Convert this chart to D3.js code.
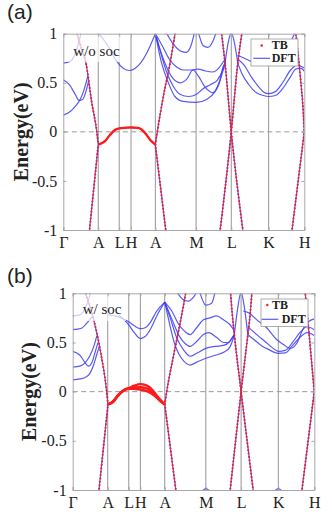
<!DOCTYPE html>
<html>
<head>
<meta charset="utf-8">
<script src="https://cdn.jsdelivr.net/npm/d3@7"></script>
<style>
  body { margin: 0; background: #fff; }
  text { fill: #222; }
</style>
</head>
<body>
<div id="chart"></div>
<script>
//k-path labels and positions (fraction of path length)
const kLabels = ["Γ", "A", "L", "H", "A", "M", "L", "K", "H"];
const kTicksA = [0, 0.145, 0.232, 0.281, 0.382, 0.551, 0.697, 0.852, 1];
const kTicksB = [0, 0.145, 0.232, 0.280, 0.381, 0.551, 0.697, 0.851, 1];
const energyTicks = [-1, -0.5, 0, 0.5, 1];

//////////////// panel (a): w/o soc ////////////////
//TB bands (dotted red, DFT blue underneath)
const tbLinesA = [
  [[0.055, 1.02], [0.075, 0.85], [0.094, 0.70], [0.118, 0.30], [0.139, 0.0], [0.145, -0.13]],
  [[0.108, -1.02], [0.145, -0.13]],
  [[0.382, -0.13], [0.390, 0.0], [0.415, 0.36], [0.443, 0.70], [0.465, 1.02]],
  [[0.382, -0.13], [0.426, -1.02]],
  [[0.650, -1.02], [0.697, 0.0], [0.724, 0.70], [0.742, 1.02]],
  [[0.656, 1.02], [0.671, 0.70], [0.697, 0.0], [0.746, -1.02]],
  [[0.964, 1.02], [0.982, 0.60], [0.996, 0.19], [1.0, 0.0]],
  [[0.948, -1.02], [1.0, 0.0]]
];
//flat band near the Fermi level (dense TB points)
const tbFlatA = [
  [[0.145, -0.13], [0.173, -0.095], [0.194, -0.03], [0.215, 0.02], [0.232, 0.035], [0.26, 0.042],
   [0.281, 0.045], [0.311, 0.04], [0.339, -0.01], [0.36, -0.08], [0.382, -0.13]]
];
//DFT-only bands
const dftA = [
  [[0, 0.70], [0.03, 0.72], [0.05, 0.80], [0.065, 0.92], [0.075, 1.02]],
  [[0, 0.53], [0.025, 0.48], [0.05, 0.38], [0.065, 0.32], [0.08, 0.33], [0.095, 0.42], [0.105, 0.52]],
  [[0, 0.17], [0.03, 0.21], [0.05, 0.26], [0.07, 0.33], [0.085, 0.42], [0.102, 0.57]],
  [[0.148, 1.0], [0.187, 0.87], [0.221, 0.72], [0.25, 0.645], [0.275, 0.625], [0.30, 0.65], [0.346, 0.80], [0.37, 0.93], [0.382, 1.0]],
  [[0.382, 1.0], [0.408, 0.70], [0.436, 0.50], [0.463, 0.36], [0.498, 0.31], [0.551, 0.30], [0.595, 0.33], [0.629, 0.41], [0.65, 0.53], [0.663, 0.66], [0.671, 0.70]],
  [[0.382, 1.0], [0.405, 0.80], [0.43, 0.60], [0.455, 0.47], [0.486, 0.38], [0.52, 0.36], [0.551, 0.38], [0.58, 0.44], [0.61, 0.48], [0.64, 0.53], [0.66, 0.62], [0.671, 0.70]],
  [[0.382, 1.0], [0.40, 0.85], [0.425, 0.68], [0.45, 0.56], [0.486, 0.50], [0.513, 0.54], [0.538, 0.63], [0.56, 0.57], [0.59, 0.45], [0.62, 0.40], [0.645, 0.48], [0.66, 0.60], [0.671, 0.70]],
  [[0.382, 1.0], [0.41, 0.88], [0.44, 0.74], [0.47, 0.66], [0.50, 0.63], [0.53, 0.63], [0.56, 0.64], [0.59, 0.62], [0.62, 0.61], [0.645, 0.65], [0.66, 0.70], [0.671, 0.74]],
  [[0.425, 1.02], [0.455, 0.90], [0.49, 0.82], [0.51, 0.81], [0.53, 0.88], [0.545, 1.02]],
  [[0.56, 1.02], [0.58, 0.88], [0.60, 0.86], [0.62, 0.92], [0.635, 1.02]],
  [[0.671, 0.70], [0.685, 0.92], [0.697, 1.01], [0.709, 0.92], [0.724, 0.70]],
  [[0.724, 0.70], [0.74, 0.60], [0.77, 0.48], [0.80, 0.40], [0.83, 0.37], [0.852, 0.36], [0.88, 0.37], [0.91, 0.44], [0.94, 0.55], [0.965, 0.64], [0.985, 0.65], [1.0, 0.62]],
  [[0.724, 0.74], [0.75, 0.68], [0.78, 0.56], [0.81, 0.46], [0.835, 0.40], [0.852, 0.39], [0.88, 0.41], [0.91, 0.50], [0.94, 0.62], [0.97, 0.68], [1.0, 0.65]],
  [[0.724, 0.78], [0.76, 0.74], [0.80, 0.70], [0.84, 0.70], [0.88, 0.76], [0.92, 0.86], [0.95, 0.95], [0.962, 1.02]]
];

//////////////// panel (b): w/ soc ////////////////
const tbLinesB = [
  [[0.05, 1.02], [0.084, 0.76], [0.118, 0.37], [0.139, 0.035], [0.146, -0.13]],
  [[0.108, -1.02], [0.146, -0.13]],
  [[0.381, -0.13], [0.389, 0.0], [0.416, 0.35], [0.444, 0.69], [0.458, 0.87], [0.469, 1.02]],
  [[0.381, -0.13], [0.428, -1.02]],
  [[0.651, -1.02], [0.697, 0.0], [0.725, 0.58], [0.735, 0.80], [0.742, 1.02]],
  [[0.653, 1.02], [0.66, 0.80], [0.669, 0.58], [0.697, 0.0], [0.748, -1.02]],
  [[0.962, 1.02], [0.97, 0.80], [0.978, 0.60], [0.99, 0.27], [1.0, 0.0]],
  [[0.948, -1.02], [1.0, 0.0]]
];
const tbFlatB = [
  [[0.146, -0.13], [0.167, -0.10], [0.188, -0.035], [0.208, 0.01], [0.232, 0.035], [0.255, 0.06], [0.28, 0.077], [0.30, 0.068], [0.32, 0.04], [0.34, -0.015], [0.36, -0.075], [0.381, -0.13]],
  [[0.146, -0.13], [0.167, -0.10], [0.188, -0.035], [0.208, 0.01], [0.232, 0.035], [0.255, 0.042], [0.28, 0.045], [0.30, 0.038], [0.32, 0.015], [0.34, -0.03], [0.36, -0.085], [0.381, -0.13]],
  [[0.146, -0.13], [0.167, -0.105], [0.188, -0.04], [0.208, 0.005], [0.232, 0.03], [0.255, 0.028], [0.28, 0.022], [0.30, 0.01], [0.32, -0.01], [0.34, -0.045], [0.36, -0.09], [0.381, -0.13]]
];
const dftB = [
  [[0, 0.77], [0.03, 0.78], [0.05, 0.84], [0.065, 0.93], [0.075, 1.02]],
  [[0, 0.63], [0.036, 0.645], [0.063, 0.71], [0.084, 0.77]],
  [[0, 0.41], [0.03, 0.37], [0.05, 0.30], [0.065, 0.26], [0.08, 0.30], [0.095, 0.42], [0.105, 0.50]],
  [[0, 0.25], [0.03, 0.26], [0.05, 0.29], [0.07, 0.36], [0.09, 0.48], [0.10, 0.57]],
  [[0, 0.12], [0.03, 0.13], [0.055, 0.15], [0.07, 0.18], [0.085, 0.26], [0.10, 0.38], [0.11, 0.46]],
  [[0.146, 0.78], [0.19, 0.76], [0.232, 0.71], [0.255, 0.67], [0.28, 0.64], [0.30, 0.65], [0.32, 0.70], [0.348, 0.82], [0.381, 0.91]],
  [[0.19, 0.78], [0.232, 0.68], [0.255, 0.60], [0.28, 0.54], [0.30, 0.56], [0.325, 0.65], [0.35, 0.78], [0.381, 0.91]],
  [[0.381, 0.91], [0.40, 0.70], [0.42, 0.50], [0.44, 0.38], [0.46, 0.31], [0.486, 0.27], [0.513, 0.30], [0.551, 0.34], [0.59, 0.37], [0.625, 0.40], [0.65, 0.45], [0.663, 0.53], [0.669, 0.58]],
  [[0.381, 0.91], [0.405, 0.74], [0.43, 0.55], [0.46, 0.42], [0.486, 0.36], [0.513, 0.39], [0.551, 0.44], [0.59, 0.46], [0.625, 0.47], [0.65, 0.51], [0.669, 0.58]],
  [[0.381, 0.91], [0.41, 0.74], [0.44, 0.57], [0.465, 0.49], [0.486, 0.46], [0.513, 0.51], [0.541, 0.58], [0.562, 0.60], [0.596, 0.55], [0.624, 0.50], [0.645, 0.50], [0.66, 0.55], [0.669, 0.58]],
  [[0.381, 0.91], [0.41, 0.82], [0.44, 0.68], [0.465, 0.61], [0.486, 0.58], [0.513, 0.65], [0.541, 0.73], [0.568, 0.75], [0.596, 0.77], [0.624, 0.73], [0.651, 0.68], [0.669, 0.62]],
  [[0.43, 1.02], [0.455, 0.94], [0.48, 0.92], [0.50, 0.96], [0.515, 1.02]],
  [[0.525, 1.02], [0.551, 0.88], [0.575, 0.90], [0.59, 1.02]],
  [[0.53, -1.03], [0.551, -0.985], [0.575, -1.03]],
  [[0.83, -1.03], [0.851, -0.985], [0.873, -1.03]],
  [[0.669, 0.58], [0.683, 0.85], [0.697, 1.01], [0.711, 0.85], [0.725, 0.58]],
  [[0.725, 0.58], [0.75, 0.53], [0.78, 0.47], [0.81, 0.43], [0.851, 0.39], [0.88, 0.395], [0.91, 0.47], [0.94, 0.55], [0.97, 0.60], [1.0, 0.57]],
  [[0.725, 0.66], [0.762, 0.58], [0.796, 0.51], [0.83, 0.44], [0.851, 0.41], [0.88, 0.42], [0.91, 0.50], [0.94, 0.60], [0.97, 0.66], [1.0, 0.63]],
  [[0.706, 0.82], [0.73, 0.80], [0.762, 0.73], [0.803, 0.65], [0.844, 0.53], [0.872, 0.48], [0.90, 0.44], [0.927, 0.49], [0.954, 0.64], [0.975, 0.71], [1.0, 0.74]]
];

//colours
const dftColor = "rgb(60,60,245)";
const tbColor = "#ff1a1a";
const serif = "'Liberation Serif', 'Times New Roman', serif";

let svg = d3.select("#chart")
            .append("svg")
            .attr("width", 332)
            .attr("height", 528);

//layout of each panel
const panels = [
  {tag: "a", left: 63.3, top: 33.7, w: 241, h: 196.3, ks: kTicksA,
   tb: tbLinesA, flat: tbFlatA, dft: dftA, note: "w/o soc",
   noteBox: [67, 34, 57, 28], noteX: 73.3, noteY: 55.5,
   legend: {x: 251, y: 39, w: 47, h: 27, dotX: 261.7, dotY: 45.5, tbX: 271.7, tbY: 48.5,
            lineX1: 253.3, lineX2: 270, lineY: 58.3, dftX: 271.7, dftY: 61.5},
   ylabX: 27.5, letter: "(a)", letterY: 19},
  {tag: "b", left: 72.7, top: 293.3, w: 241.6, h: 196.7, ks: kTicksB,
   tb: tbLinesB, flat: tbFlatB, dft: dftB, note: "w/ soc",
   noteBox: [74, 294, 52, 27], noteX: 82.7, noteY: 314,
   legend: {x: 261, y: 299, w: 47, h: 27.5, dotX: 267.3, dotY: 305, tbX: 272, tbY: 308.5,
            lineX1: 261.7, lineX2: 278.3, lineY: 319.3, dftX: 281.7, dftY: 322.5},
   ylabX: 36, letter: "(b)", letterY: 283}
];

panels.forEach(drawPanel);

function drawPanel(p) {
  let x = d3.scaleLinear().domain([0, 1]).range([p.left, p.left + p.w]);
  let y = d3.scaleLinear().domain([-1, 1]).range([p.top + p.h, p.top]);

  svg.append("clipPath").attr("id", "clip-" + p.tag)
     .append("rect")
     .attr("x", p.left).attr("y", p.top)
     .attr("width", p.w).attr("height", p.h);

  let g = svg.append("g");

  //high symmetry vertical lines
  g.selectAll("line.ksym")
   .data(p.ks.slice(1, -1))
   .join("line")
   .attr("x1", d => x(d)).attr("x2", d => x(d))
   .attr("y1", y(-1)).attr("y2", y(1))
   .attr("stroke", "#969696")
   .attr("stroke-width", 1);

  //fermi level
  g.append("line")
   .attr("x1", x(0)).attr("x2", x(1))
   .attr("y1", y(0)).attr("y2", y(0))
   .attr("stroke", "#999")
   .attr("stroke-width", 1)
   .attr("stroke-dasharray", "5,3.5");

  let plot = g.append("g").attr("clip-path", `url(#clip-${p.tag})`);
  let line = d3.line()
               .x(d => x(d[0]))
               .y(d => y(d[1]))
               .curve(d3.curveMonotoneX);

  //DFT bands (solid blue), including the ones TB follows
  plot.selectAll("path.dft")
      .data(p.dft.concat(p.tb, p.flat))
      .join("path")
      .attr("d", line)
      .attr("fill", "none")
      .attr("stroke", dftColor)
      .attr("stroke-opacity", 0.85)
      .attr("stroke-width", 1.2);

  //TB bands (red dots)
  plot.selectAll("path.tb")
      .data(p.tb)
      .join("path")
      .attr("d", line)
      .attr("fill", "none")
      .attr("stroke", tbColor)
      .attr("stroke-width", 2.1)
      .attr("stroke-linecap", "round")
      .attr("stroke-dasharray", "0,3.4");

  plot.selectAll("path.flat")
      .data(p.flat)
      .join("path")
      .attr("d", line)
      .attr("fill", "none")
      .attr("stroke", tbColor)
      .attr("stroke-width", 2.4);

  //note with translucent background
  g.append("rect")
   .attr("x", p.noteBox[0]).attr("y", p.noteBox[1])
   .attr("width", p.noteBox[2]).attr("height", p.noteBox[3])
   .attr("fill", "#fff")
   .attr("fill-opacity", 0.7);
  g.append("text")
   .attr("x", p.noteX).attr("y", p.noteY)
   .style("font-family", serif)
   .style("font-size", "15px")
   .text(p.note);

  //axes
  let fmt = d => String(d).replace("−", "-");
  g.append("g")
   .attr("transform", `translate(${p.left},0)`)
   .call(d3.axisLeft(y).tickValues(energyTicks).tickSize(-3).tickPadding(6).tickFormat(fmt))
   .call(a => a.selectAll("text").style("font-family", serif).style("font-size", "16px").attr("fill", "#262626"));
  g.append("g")
   .attr("transform", `translate(${p.left + p.w},0)`)
   .call(d3.axisRight(y).tickValues(energyTicks).tickSize(-3).tickFormat(""));
  g.append("g")
   .attr("transform", `translate(0,${p.top + p.h})`)
   .call(d3.axisBottom(x).tickValues(p.ks).tickSize(-3).tickPadding(7).tickFormat((d, i) => kLabels[i]))
   .call(a => a.selectAll("text").style("font-family", serif).style("font-size", "16px").attr("fill", "#262626"));
  g.append("g")
   .attr("transform", `translate(0,${p.top})`)
   .call(d3.axisTop(x).tickValues(p.ks).tickSize(-3).tickFormat(""));
  g.selectAll(".domain, .tick line").attr("stroke", "#a8a8a8");

  //y axis label
  g.append("text")
   .attr("transform", `translate(${p.ylabX},${p.top + p.h / 2}) rotate(-90)`)
   .style("text-anchor", "middle")
   .style("font-family", serif)
   .style("font-weight", "bold")
   .style("font-size", "20px")
   .text("Energy(eV)");

  //legend
  let L = p.legend;
  g.append("rect")
   .attr("x", L.x).attr("y", L.y).attr("width", L.w).attr("height", L.h)
   .attr("fill", "#fff").attr("stroke", "#999").attr("stroke-width", 0.8);
  g.append("circle")
   .attr("cx", L.dotX).attr("cy", L.dotY).attr("r", 1.2)
   .attr("fill", tbColor);
  g.append("line")
   .attr("x1", L.lineX1).attr("x2", L.lineX2)
   .attr("y1", L.lineY).attr("y2", L.lineY)
   .attr("stroke", dftColor).attr("stroke-opacity", 0.85).attr("stroke-width", 1.2);
  g.append("text").attr("x", L.tbX).attr("y", L.tbY)
   .style("font-family", serif).style("font-weight", "bold").style("font-size", "12px")
   .text("TB");
  g.append("text").attr("x", L.dftX).attr("y", L.dftY)
   .style("font-family", serif).style("font-weight", "bold").style("font-size", "12px")
   .text("DFT");

  //panel letter
  svg.append("text")
     .attr("x", 7).attr("y", p.letterY)
     .style("font-family", "'Liberation Sans', Arial, sans-serif")
     .style("font-size", "21px")
     .text(p.letter);
}
</script>
</body>
</html>
